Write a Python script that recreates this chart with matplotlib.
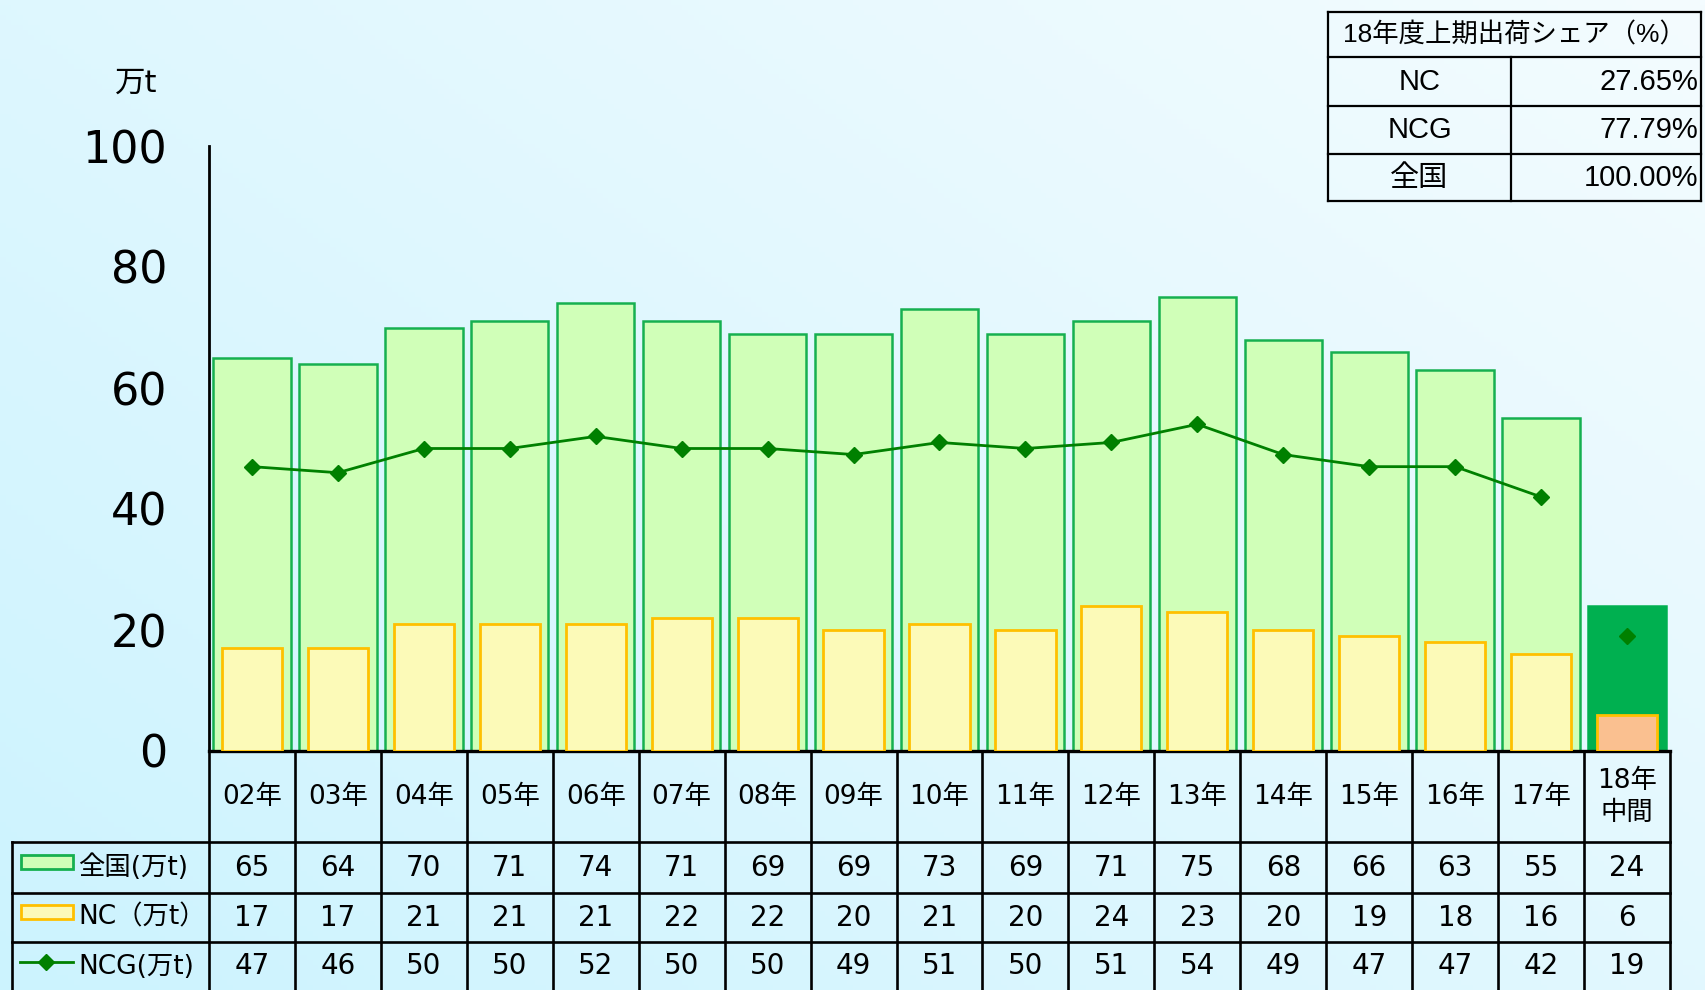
import numpy as np
import matplotlib
matplotlib.use("Agg")
import matplotlib.pyplot as plt
from matplotlib import transforms
from matplotlib.lines import Line2D
from matplotlib.patches import Rectangle

plt.rcParams['font.family'] = ['DejaVu Sans', 'Noto Sans CJK JP']
share_font = ['Liberation Sans', 'Noto Sans CJK JP']

# ---- data ----
categories = ["02年", "03年", "04年", "05年", "06年", "07年", "08年", "09年",
              "10年", "11年", "12年", "13年", "14年", "15年", "16年", "17年", "18年\n中間"]
zenkoku = [65, 64, 70, 71, 74, 71, 69, 69, 73, 69, 71, 75, 68, 66, 63, 55, 24]
nc = [17, 17, 21, 21, 21, 22, 22, 20, 21, 20, 24, 23, 20, 19, 18, 16, 6]
ncg = [47, 46, 50, 50, 52, 50, 50, 49, 51, 50, 51, 54, 49, 47, 47, 42, 19]
row_labels = ["全国(万t)", "NC（万t）", "NCG(万t)"]
share_title = "18年度上期出荷シェア（%）"
share_names = ["NC", "NCG", "全国"]
share_values = ["27.65%", "77.79%", "100.00%"]
yticks = [0, 20, 40, 60, 80, 100]

W, H = 1706, 990
fig = plt.figure(figsize=(W / 100, H / 100), dpi=100)

def fx(px):
    return px / W

def fy(py):
    return 1 - py / H

# ---- background gradient ----
bg = fig.add_axes([0, 0, 1, 1], zorder=-10)
gx = np.linspace(0, 1, 300)
gy = np.linspace(0, 1, 200)
GX, GY = np.meshgrid(gx, gy)  # GY=0 at top (imshow origin upper)
t = 0.55 * GX + 0.45 * (1 - GY)
c0 = np.array([0xCC, 0xF3, 0xFE]) / 255
c1 = np.array([0xF4, 0xFC, 0xFF]) / 255
img = c0[None, None, :] * (1 - t[..., None]) + c1[None, None, :] * t[..., None]
bg.imshow(img, aspect='auto', extent=[0, 1, 0, 1], origin='upper')
bg.axis('off')

# ---- main axes ----
x0, x1, ytop, ybot = 209, 1670, 146, 751
ax = fig.add_axes([fx(x0), fy(ybot), (x1 - x0) / W, (ybot - ytop) / H])
ax.patch.set_alpha(0)
n = len(categories)
x = np.arange(n)
ax.set_xlim(-0.5, n - 0.5)
ax.set_ylim(0, 100)

g_fill = ['#D0FFB8'] * (n - 1) + ['#00B050']
g_edge = ['#16B050'] * (n - 1) + ['#00B050']
y_fill = ['#FCFAB8'] * (n - 1) + ['#FAC090']
ax.bar(x, zenkoku, width=0.9, color=g_fill, edgecolor=g_edge, linewidth=1.8, zorder=2)
ax.bar(x, nc, width=0.7, color=y_fill, edgecolor='#FFC000', linewidth=2.0, zorder=3)
ax.plot(x[:-1], ncg[:-1], color='#008000', lw=2.0, marker='D', ms=8.5, zorder=4)
ax.plot(x[-1:], ncg[-1:], color='#008000', lw=0, marker='D', ms=8.5, zorder=4)

for s in ['top', 'right']:
    ax.spines[s].set_visible(False)
ax.spines['left'].set_linewidth(2.0)
ax.spines['bottom'].set_linewidth(2.4)
ax.set_xticks([])
ax.set_yticks(yticks)
ax.set_yticklabels([str(v) for v in yticks], fontsize=32)
ax.tick_params(axis='y', length=0, pad=30)

fig.text(fx(136), fy(83), "万t", fontsize=22, ha='center', va='center')

# ---- data table below ----
bt = transforms.blended_transform_factory(ax.transData, fig.transFigure)
lw_t = 1.9
rows_y = [751, 842, 893, 942, 991]
for i in range(n + 1):
    fig.add_artist(Line2D([i - 0.5, i - 0.5], [fy(751), fy(995)], transform=bt,
                          color='black', lw=lw_t))
fig.add_artist(Line2D([fx(12), fx(12)], [fy(842), fy(995)], color='black', lw=lw_t))
for ry in rows_y[1:]:
    fig.add_artist(Line2D([fx(12), fx(x1)], [fy(ry), fy(ry)], color='black', lw=lw_t))

hdr_y = (751 + 842) / 2
row_c = [(842 + 893) / 2, (893 + 942) / 2, (942 + 991) / 2]
for i, c in enumerate(categories):
    fig.text(i, fy(hdr_y), c, transform=bt, ha='center', va='center', fontsize=19,
             linespacing=1.3)
for vals, ry in zip([zenkoku, nc, ncg], row_c):
    for i, v in enumerate(vals):
        fig.text(i, fy(ry), str(v), transform=bt, ha='center', va='center', fontsize=20)

# row labels with legend keys
for lbl, ry in zip(row_labels, row_c):
    fig.text(fx(78), fy(ry), lbl, ha='left', va='center', fontsize=19)
fig.add_artist(Rectangle((fx(21), fy(869)), fx(52), (869 - 855) / H,
                         facecolor='#D0FFB8', edgecolor='#16B050', lw=2.0))
fig.add_artist(Rectangle((fx(21), fy(919)), fx(52), (919 - 905) / H,
                         facecolor='#FCFAB8', edgecolor='#FFC000', lw=2.0))
fig.add_artist(Line2D([fx(20), fx(73)], [fy(962), fy(962)], color='#008000', lw=2.0))
fig.add_artist(Line2D([fx(46.5)], [fy(962)], color='#008000', marker='D', ms=8.5, lw=0))

# ---- share table (top right) ----
sl, sr, sm = 1328, 1701, 1511
sy = [12, 57, 106, 154, 201]
lw_s = 1.6
for yy in sy:
    fig.add_artist(Line2D([fx(sl), fx(sr)], [fy(yy), fy(yy)], color='black', lw=lw_s))
for xx in [sl, sr]:
    fig.add_artist(Line2D([fx(xx), fx(xx)], [fy(sy[0]), fy(sy[-1])], color='black', lw=lw_s))
fig.add_artist(Line2D([fx(sm), fx(sm)], [fy(sy[1]), fy(sy[-1])], color='black', lw=lw_s))
fig.text(fx((sl + sr) / 2), fy((sy[0] + sy[1]) / 2), share_title, ha='center', va='center',
         fontsize=19, family=share_font)
for k, (nm, val) in enumerate(zip(share_names, share_values)):
    yc = (sy[k + 1] + sy[k + 2]) / 2
    fig.text(fx((sl + sm) / 2), fy(yc), nm, ha='center', va='center', fontsize=21,
             family=share_font)
    fig.text(fx(sr - 3), fy(yc), val, ha='right', va='center', fontsize=21,
             family=share_font)

fig.savefig("out.png", dpi=100)
